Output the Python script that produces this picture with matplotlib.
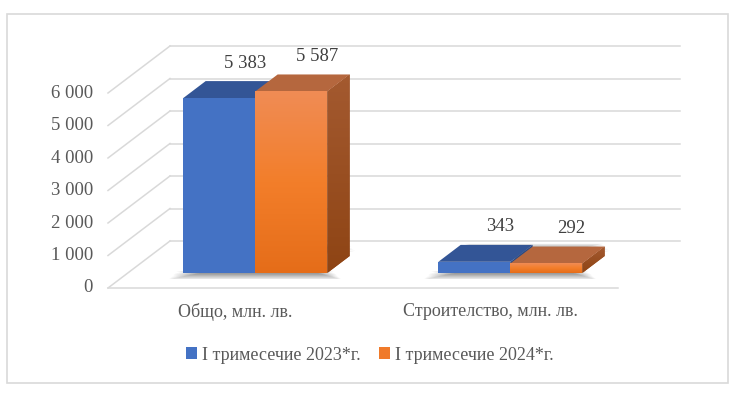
import numpy as np
import matplotlib
matplotlib.use("Agg")
import matplotlib.pyplot as plt
from matplotlib.patches import Polygon, Rectangle, Patch
from matplotlib.colors import LinearSegmentedColormap

# --------------------------------------------------------------------------
# Data
# --------------------------------------------------------------------------
categories = ["Общо, млн. лв.", "Строителство, млн. лв."]
series_names = ["I тримесечие 2023*г.", "I тримесечие 2024*г."]
values_2023 = [5383, 343]
values_2024 = [5587, 292]
y_ticks = [0, 1000, 2000, 3000, 4000, 5000, 6000]

plt.rcParams["font.family"] = ["Liberation Serif", "DejaVu Serif"]
TEXT = "#595959"
GRID = "#D9D9D9"

# pseudo-3D geometry (pixels at dpi 100)
W, H = 740, 397
PX_CAT = 255.0          # pixels per category on the front plane
PX_1000 = 32.5          # pixels per 1000 units
FRONT_X, FLOOR_Y = 108, 288
DEPTH_PX = (62, 47)     # full depth of the box (right, up)
BAR_FRONT, BAR_BACK = 0.32, 0.68
BAR_W = 72 / PX_CAT

fig = plt.figure(figsize=(W / 100, H / 100), dpi=100)
ax = fig.add_axes([0, 0, 1, 1])
ax.set_xlim(-0.5 - FRONT_X / PX_CAT, -0.5 + (W - FRONT_X) / PX_CAT)
ax.set_ylim(-(H - FLOOR_Y) / PX_1000 * 1000, FLOOR_Y / PX_1000 * 1000)
ax.axis("off")

DX = DEPTH_PX[0] / PX_CAT
DY = DEPTH_PX[1] / PX_1000 * 1000


def shift(pts, t):
    return [(x + t * DX, y + t * DY) for x, y in pts]


# outer chart frame
fig.patches.append(Rectangle((7 / W, 1 - 383 / H), 721 / W, 369 / H,
                             transform=fig.transFigure, fill=False,
                             edgecolor=GRID, linewidth=1.2))

# back wall, left wall and floor edge
x_lo, x_hi = -0.5, len(categories) - 0.5
for v in y_ticks:
    ax.plot([x_lo + DX, x_hi + DX], [v + DY, v + DY], color=GRID, lw=1.1, zorder=1)
    ax.plot([x_lo, x_lo + DX], [v, v + DY], color=GRID, lw=1.1, zorder=1)
    ax.text(x_lo - 15 / PX_CAT, v, f"{v:,}".replace(",", " "), ha="right",
            va="center", fontsize=13.5, color=TEXT)
ax.plot([x_lo, x_hi], [0, 0], color=GRID, lw=1.1, zorder=1)

for i, c in enumerate(categories):
    ax.text(i, -24 / PX_1000 * 1000, c, ha="center", va="center",
            fontsize=13, color=TEXT)

# gradients
orange_front = LinearSegmentedColormap.from_list("of", ["#E56D19", "#F37E2A", "#F08C55"])
orange_side = LinearSegmentedColormap.from_list("os", ["#8E4414", "#A45A30"])


def gradient(poly, cmap, z):
    xs = [p[0] for p in poly]
    ys = [p[1] for p in poly]
    patch = Polygon(poly, closed=True, facecolor="none", edgecolor="none", zorder=z)
    ax.add_patch(patch)
    grad = np.linspace(0, 1, 256).reshape(-1, 1)
    im = ax.imshow(grad, cmap=cmap, origin="lower", aspect="auto", zorder=z,
                   extent=[min(xs), max(xs), min(ys), max(ys)], interpolation="bilinear")
    im.set_clip_path(patch)


def draw_bar(x0, h, front, top, side, z, grad_front=None, grad_side=None):
    x1 = x0 + BAR_W
    face = [(x0, 0), (x1, 0), (x1, h), (x0, h)]
    face = shift(face, BAR_FRONT)
    d = BAR_BACK - BAR_FRONT
    side_poly = [face[1], face[2], shift([face[2]], d)[0], shift([face[1]], d)[0]]
    top_poly = [face[3], face[2], shift([face[2]], d)[0], shift([face[3]], d)[0]]
    ax.add_patch(Polygon(side_poly, closed=True, facecolor=side, edgecolor="none", zorder=z))
    if grad_side is not None:
        gradient(side_poly, grad_side, z)
    ax.add_patch(Polygon(top_poly, closed=True, facecolor=top, edgecolor="none", zorder=z))
    ax.add_patch(Polygon(face, closed=True, facecolor=front, edgecolor="none", zorder=z + 0.5))
    if grad_front is not None:
        gradient(face, grad_front, z + 0.5)


# soft shadow under each bar group (cast slightly to the left)
for i in range(len(categories)):
    gx0, gx1 = i - BAR_W - 9 / PX_CAT, i + BAR_W + 2 / PX_CAT
    base = [(gx0, 0), (gx1, 0), (gx1, 0), (gx0, 0)]
    base = shift(base[:2], BAR_FRONT + 0.05) + shift(base[2:], BAR_BACK + 0.08)[::-1]
    for k in range(6):
        e = (6 - k) * 1.4
        ex, ey = e / PX_CAT, e / PX_1000 * 1000
        poly = [(base[0][0] - ex, base[0][1] - ey), (base[1][0] + ex, base[1][1] - ey),
                (base[2][0] + ex, base[2][1] + ey), (base[3][0] - ex, base[3][1] + ey)]
        ax.add_patch(Polygon(poly, closed=True, facecolor="#202020", alpha=0.12,
                             edgecolor="none", zorder=2))

# bars
for i in range(len(categories)):
    draw_bar(i - BAR_W, values_2023[i], "#4472C4", "#335596", "#2A4A85", 3)
    draw_bar(i, values_2024[i], "#F07A2A", "#B5673E", "#9A4F22", 5,
             grad_front=orange_front, grad_side=orange_side)

# data labels
for i in range(len(categories)):
    for j, vals in enumerate([values_2023, values_2024]):
        cx = i + (j - 0.5) * BAR_W + BAR_BACK * DX
        cy = vals[i] + BAR_BACK * DY
        ax.annotate(f"{vals[i]:,}".replace(",", " "), (cx, cy), xytext=(3, 18),
                    textcoords="offset pixels", ha="center", va="center",
                    fontsize=13.5, color="#404040", zorder=10)

handles = [Patch(facecolor="#4472C4", edgecolor="none"),
           Patch(facecolor="#F07A2A", edgecolor="none")]
fig.legend(handles, series_names, loc="center", bbox_to_anchor=(0.5, 1 - 355 / H),
           ncol=2, frameon=False, fontsize=13, labelcolor=TEXT,
           handlelength=0.6, handleheight=0.6, handletextpad=0.3, columnspacing=1.0)

fig.savefig("out.png", dpi=100)
